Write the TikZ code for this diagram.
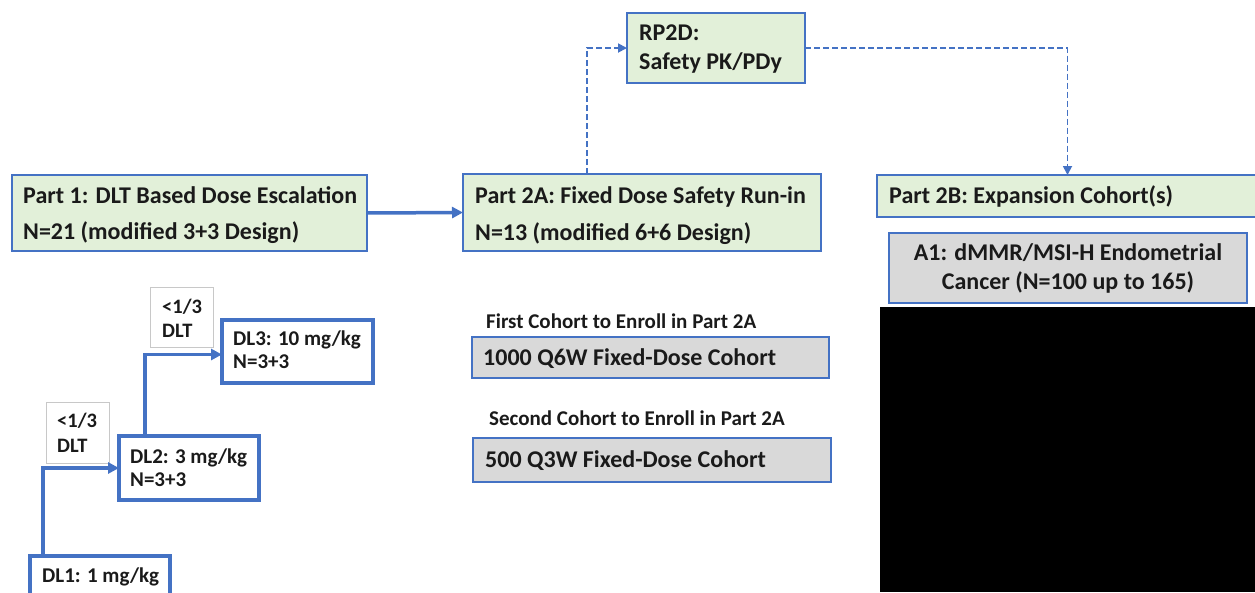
\documentclass[tikz,border=0pt]{standalone}
\usepackage{fontspec}
\setmainfont{Carlito}
\usetikzlibrary{arrows.meta}
\definecolor{bblue}{HTML}{4472C4}
\definecolor{lgreen}{HTML}{E2F0D9}
\definecolor{lgray}{HTML}{D9D9D9}
\definecolor{tgray}{HTML}{C8C8C8}
\definecolor{ink}{HTML}{1A1A1A}
\begin{document}
\begin{tikzpicture}[x=1pt,y=-1pt,
  box/.style={anchor=north west,inner sep=0pt,outer sep=0pt},
  greenbox/.style={box,draw=bblue,line width=1.5pt,fill=lgreen},
  graybox/.style={box,draw=bblue,line width=1.5pt,fill=lgray},
  dlbox/.style={box,draw=bblue,line width=3.5pt,fill=white},
  dltbox/.style={box,draw=tgray,line width=0.8pt,fill=white},
  txt/.style={anchor=base west,inner sep=0pt,text=ink,font=\bfseries\fontsize{24}{28}\selectfont},
  ltxt/.style={txt,font=\bfseries\fontsize{21}{24}\selectfont},
  stxt/.style={txt,font=\bfseries\fontsize{20.5}{24}\selectfont},
  dtxt/.style={txt,font=\bfseries\fontsize{21}{24}\selectfont},
  solidarrow/.style={draw=bblue,line width=3.5pt,-{Triangle[length=11pt,width=11pt]}},
  dasharrow/.style={draw=bblue,line width=1.8pt,dash pattern=on 6pt off 3pt,-{Triangle[length=9pt,width=9pt]}}]
\useasboundingbox (0,0) rectangle (1255,592);
% black region
\fill[black] (880,307) rectangle (1255,592);
% Part 1
\node[greenbox,minimum width=355pt,minimum height=76pt] (p1) at (12,175) {};
\node[txt] (p1a) at (23,203) {Part 1: DLT Based Dose Escalation};
\node[txt] (p1b) at (23,239) {N=21 (modified 3+3 Design)};
% Part 2A
\node[greenbox,minimum width=358pt,minimum height=77pt] (p2a) at (463,174) {};
\node[txt] (p2aa) at (475,203) {Part 2A: Fixed Dose Safety Run-in};
\node[txt] (p2ab) at (475,240) {N=13 (modified 6+6 Design)};
% RP2D
\node[greenbox,minimum width=178pt,minimum height=70pt] (rp) at (627,13) {};
\node[txt] (rpa) at (639,40) {RP2D:};
\node[txt] (rpb) at (639,69) {Safety PK/PDy};
% Part 2B
\node[greenbox,minimum width=381pt,minimum height=42pt] (p2b) at (877,175) {};
\node[txt] (p2bt) at (889,203) {Part 2B: Expansion Cohort(s)};
% A1
\node[graybox,minimum width=358pt,minimum height=70pt] (a1) at (889,233) {};
\node[txt,anchor=base] (a1a) at (1068,260) {A1: dMMR/MSI-H Endometrial};
\node[txt,anchor=base] (a1b) at (1068,289) {Cancer (N=100 up to 165)};
% Cohorts
\node[ltxt] (c1l) at (486,328) {First Cohort to Enroll in Part 2A};
\node[graybox,minimum width=357pt,minimum height=41pt] (c1) at (472,337) {};
\node[txt] (c1t) at (483,365) {1000 Q6W Fixed-Dose Cohort};
\node[ltxt] (c2l) at (489,425) {Second Cohort to Enroll in Part 2A};
\node[graybox,minimum width=358pt,minimum height=44pt] (c2) at (473,438) {};
\node[txt] (c2t) at (485,467) {500 Q3W Fixed-Dose Cohort};
% DLT boxes
\node[dltbox,minimum width=63pt,minimum height=60pt] (d1) at (150,287) {};
\node[stxt] (d1a) at (162,313) {<1/3};
\node[stxt] (d1b) at (162,337) {DLT};
\node[dltbox,minimum width=63pt,minimum height=61pt] (d2) at (46,402) {};
\node[stxt] (d2a) at (57,427) {<1/3};
\node[stxt] (d2b) at (57,452) {DLT};
% Dose levels
\node[dlbox,minimum width=151pt,minimum height=63pt] (dl3) at (222,320) {};
\node[dtxt] (dl3a) at (233,345) {DL3: 10 mg/kg};
\node[dtxt] (dl3b) at (233,368) {N=3+3};
\node[dlbox,minimum width=140pt,minimum height=64pt] (dl2) at (119,436) {};
\node[dtxt] (dl2a) at (130,463) {DL2: 3 mg/kg};
\node[dtxt] (dl2b) at (130,486) {N=3+3};
\node[dlbox,minimum width=140pt,minimum height=64pt] (dl1) at (30,556) {};
\node[dtxt] (dl1a) at (42,582) {DL1: 1 mg/kg};
% connectors
\draw[solidarrow] (p1.east) -- (p2a.west);
\draw[solidarrow] ([xshift=13pt]dl1.north west) |- (dl2.west);
\draw[solidarrow] ([xshift=26pt]dl2.north west) |- ([yshift=-3pt]dl3.west);
\draw[dasharrow] ([xshift=124pt]p2a.north west) |- (rp.west);
\draw[dasharrow] (rp.east) -| (p2b.north);
\end{tikzpicture}
\end{document}
